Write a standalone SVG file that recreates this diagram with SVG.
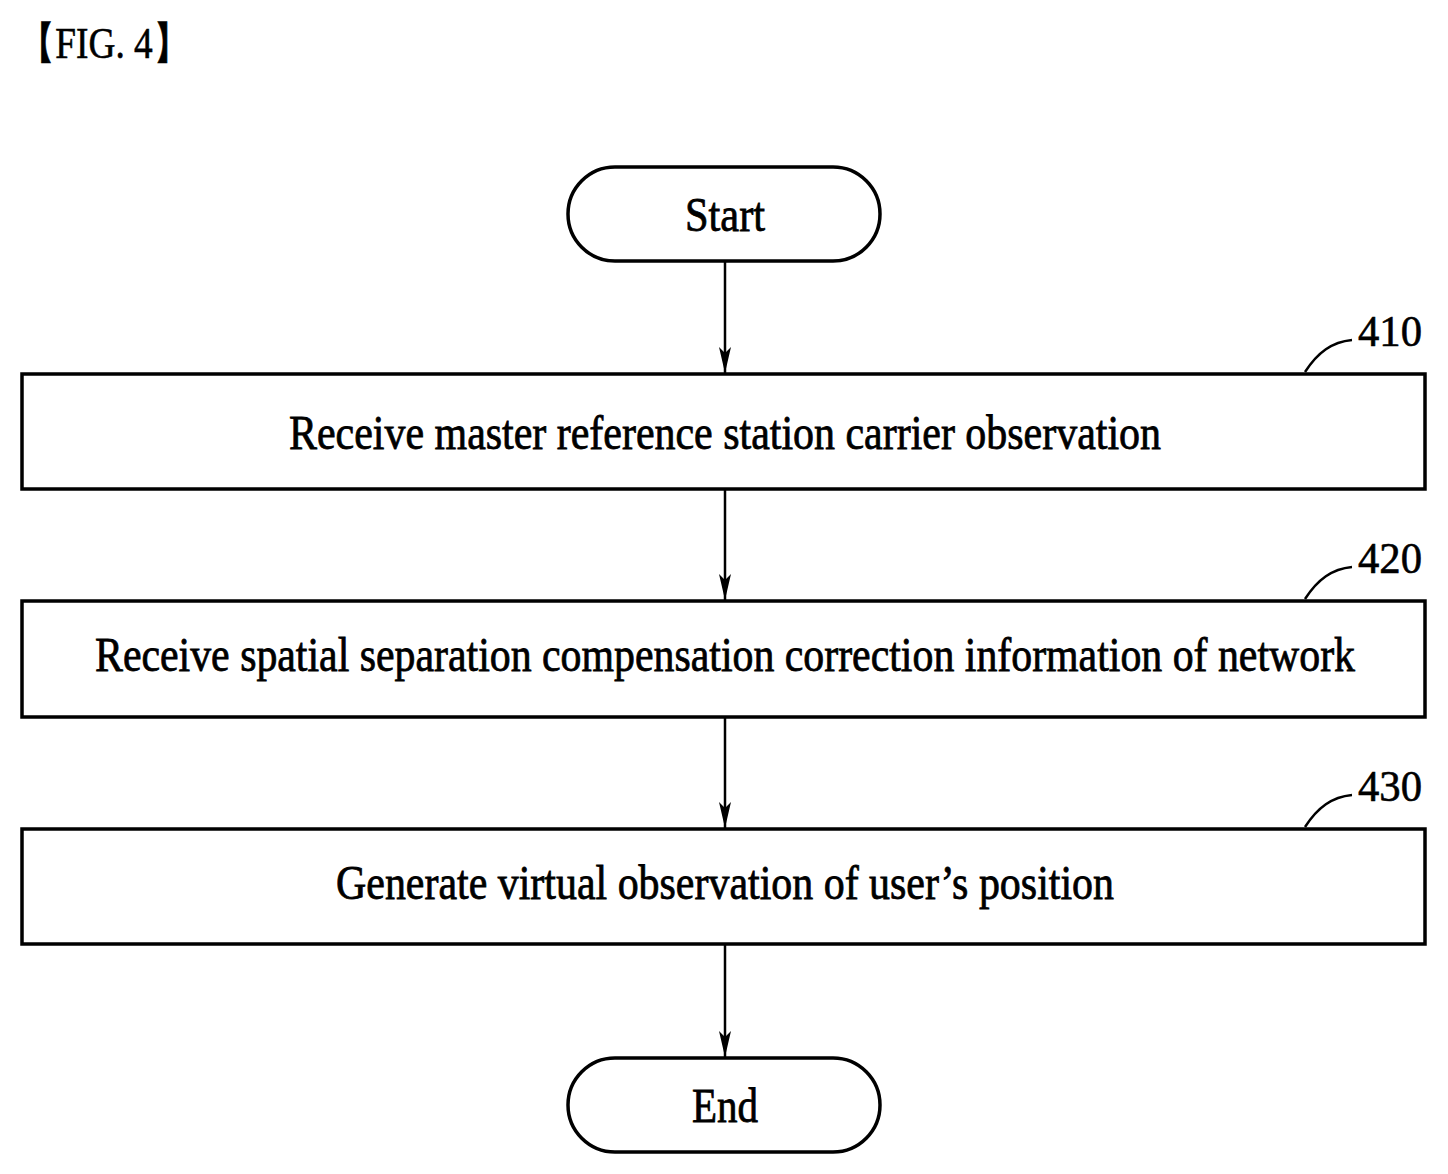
<svg xmlns="http://www.w3.org/2000/svg" width="1448" height="1174" viewBox="0 0 1448 1174">
<style>
.b{fill:#fff;stroke:#000;stroke-width:3.5}
.t{font-family:"Liberation Serif",serif;font-size:48px;fill:#000;stroke:#000;stroke-width:0.8;text-anchor:middle}
.n{font-family:"Liberation Serif",serif;font-size:44px;fill:#000;stroke:#000;stroke-width:0.6}
.c{fill:none;stroke:#000;stroke-width:2.5}
</style>
<defs><marker id="a" markerWidth="26" markerHeight="12" refX="26" refY="6" orient="auto" markerUnits="userSpaceOnUse" viewBox="0 0 26 12"><path d="M0,0 L26,6 L0,12 L6,6 Z" fill="#000"/></marker></defs>
<rect width="1448" height="1174" fill="#fff"/>
<text x="18" y="58" class="n" font-size="40" textLength="172" lengthAdjust="spacingAndGlyphs">【FIG. 4】</text>
<g id="connectors">
<line class="c" x1="725" y1="261" x2="725" y2="373" marker-end="url(#a)"/>
<line class="c" x1="725" y1="489" x2="725" y2="600" marker-end="url(#a)"/>
<line class="c" x1="725" y1="717" x2="725" y2="828" marker-end="url(#a)"/>
<line class="c" x1="725" y1="944" x2="725" y2="1057" marker-end="url(#a)"/>
<path class="c" d="M1305,372 C1318,352 1332,342 1352,340"/>
<path class="c" d="M1305,599 C1318,579 1332,569 1352,567"/>
<path class="c" d="M1305,827 C1318,807 1332,797 1352,795"/>
</g>
<g id="start"><rect class="b" x="568" y="167" width="312" height="94" rx="47"/><text class="t" x="725" y="231" textLength="80" lengthAdjust="spacingAndGlyphs">Start</text></g>
<g id="n410"><rect class="b" x="22" y="374" width="1403" height="115"/><text class="t" x="725" y="449" textLength="872" lengthAdjust="spacingAndGlyphs">Receive master reference station carrier observation</text><text class="n" x="1358" y="346" textLength="64" lengthAdjust="spacingAndGlyphs">410</text></g>
<g id="n420"><rect class="b" x="22" y="601" width="1403" height="116"/><text class="t" x="725" y="671" textLength="1260" lengthAdjust="spacingAndGlyphs">Receive spatial separation compensation correction information of network</text><text class="n" x="1358" y="573" textLength="64" lengthAdjust="spacingAndGlyphs">420</text></g>
<g id="n430"><rect class="b" x="22" y="829" width="1403" height="115"/><text class="t" x="725" y="899" textLength="778" lengthAdjust="spacingAndGlyphs">Generate virtual observation of user’s position</text><text class="n" x="1358" y="801" textLength="64" lengthAdjust="spacingAndGlyphs">430</text></g>
<g id="end"><rect class="b" x="568" y="1058" width="312" height="94" rx="47"/><text class="t" x="725" y="1122" textLength="66" lengthAdjust="spacingAndGlyphs">End</text></g>
</svg>
